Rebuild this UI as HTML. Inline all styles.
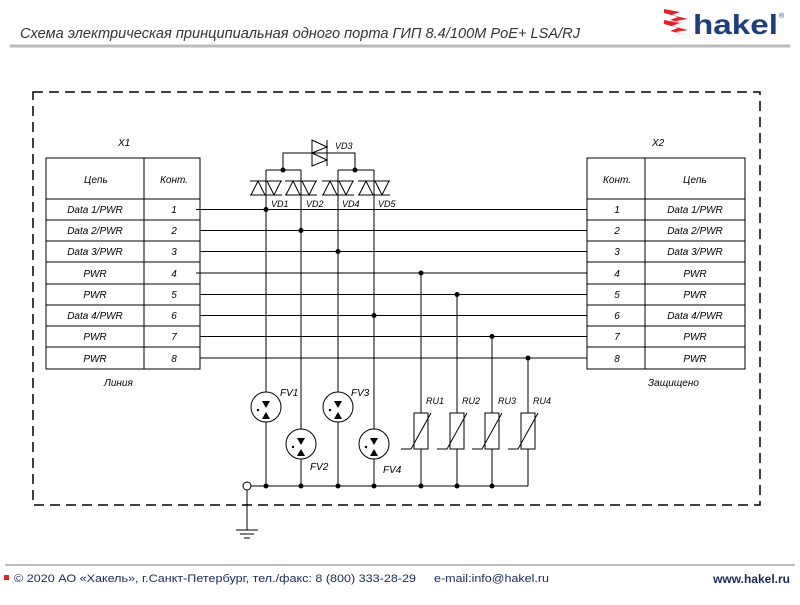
<!DOCTYPE html>
<html><head><meta charset="utf-8"><style>
body{margin:0;background:#fff;width:800px;height:600px;overflow:hidden}
svg text{font-family:"Liberation Sans","DejaVu Sans",sans-serif;font-style:italic}
svg text.n{font-style:normal}
</style></head><body>
<svg width="800" height="600" viewBox="0 0 800 600" xmlns="http://www.w3.org/2000/svg">
<text x="20" y="38" font-size="15" fill="#333" textLength="560" lengthAdjust="spacingAndGlyphs">Схема электрическая принципиальная одного порта ГИП 8.4/100М PoE+ LSA/RJ</text>
<line x1="10" y1="46" x2="790" y2="46" stroke="#bbb" stroke-width="3"/>
<g fill="#e0242b">
<polygon points="664,9 680,12 672,15 688,19 676,21 686,24 670,20 678,17 664,13"/>
<polygon points="664,20 680,23 672,26 688,30 676,32 686,35 670,31 678,28 664,24"/>
</g>
<text class="n" x="693" y="34" font-size="28" font-weight="bold" fill="#1d3f7a" textLength="85" lengthAdjust="spacingAndGlyphs">hakel</text>
<text class="n" x="779" y="18" font-size="7" fill="#1d3f7a">®</text>

<rect x="33" y="92" width="727" height="413" fill="none" stroke="#000" stroke-width="1.5" stroke-dasharray="10,6"/>

<g stroke="#000" stroke-width="1" fill="none">
<rect x="46" y="158" width="154" height="211"/>
<line x1="144" y1="158" x2="144" y2="369"/>
<line x1="46" y1="199" x2="200" y2="199"/>
<line x1="46" y1="220" x2="200" y2="220"/><line x1="46" y1="241" x2="200" y2="241"/>
<line x1="46" y1="262" x2="200" y2="262"/><line x1="46" y1="284" x2="200" y2="284"/>
<line x1="46" y1="305" x2="200" y2="305"/><line x1="46" y1="326" x2="200" y2="326"/>
<line x1="46" y1="347" x2="200" y2="347"/>
<rect x="587" y="158" width="158" height="211"/>
<line x1="645" y1="158" x2="645" y2="369"/>
<line x1="587" y1="199" x2="745" y2="199"/>
<line x1="587" y1="220" x2="745" y2="220"/><line x1="587" y1="241" x2="745" y2="241"/>
<line x1="587" y1="262" x2="745" y2="262"/><line x1="587" y1="284" x2="745" y2="284"/>
<line x1="587" y1="305" x2="745" y2="305"/><line x1="587" y1="326" x2="745" y2="326"/>
<line x1="587" y1="347" x2="745" y2="347"/>
<line x1="196" y1="209.5" x2="587" y2="209.5"/><line x1="200" y1="230.5" x2="587" y2="230.5"/>
<line x1="200" y1="251.5" x2="587" y2="251.5"/><line x1="196" y1="273" x2="587" y2="273"/>
<line x1="200" y1="294.5" x2="587" y2="294.5"/><line x1="200" y1="315.5" x2="587" y2="315.5"/>
<line x1="200" y1="336.5" x2="587" y2="336.5"/><line x1="200" y1="358" x2="587" y2="358"/>
<line x1="266" y1="170" x2="266" y2="392"/><line x1="266" y1="422" x2="266" y2="486"/>
<line x1="301" y1="170" x2="301" y2="429"/><line x1="301" y1="459" x2="301" y2="486"/>
<line x1="338" y1="170" x2="338" y2="392"/><line x1="338" y1="422" x2="338" y2="486"/>
<line x1="374" y1="170" x2="374" y2="429"/><line x1="374" y1="459" x2="374" y2="486"/>
<line x1="266" y1="170" x2="301" y2="170"/><line x1="338" y1="170" x2="374" y2="170"/>
<polyline points="283,170 283,153 355,153 355,170"/>
<line x1="421" y1="273" x2="421" y2="486"/><line x1="457" y1="294.5" x2="457" y2="486"/>
<line x1="492" y1="336.5" x2="492" y2="486"/><line x1="528" y1="358" x2="528" y2="486"/>
<line x1="251" y1="486" x2="528" y2="486"/>
<circle cx="247" cy="486" r="4" fill="#fff"/>
<line x1="247" y1="490" x2="247" y2="530"/>
<line x1="236" y1="530" x2="258" y2="530"/><line x1="240" y1="534" x2="254" y2="534"/><line x1="244" y1="538" x2="250" y2="538"/>
<circle cx="266" cy="407" r="15"/><circle cx="301" cy="444" r="15"/>
<circle cx="338" cy="407" r="15"/><circle cx="374" cy="444" r="15"/>
<rect x="414" y="413" width="14" height="36" fill="#fff"/><rect x="450" y="413" width="14" height="36" fill="#fff"/>
<rect x="485" y="413" width="14" height="36" fill="#fff"/><rect x="521" y="413" width="14" height="36" fill="#fff"/>
<polyline points="401,449 411,449 431,413"/><polyline points="437,449 447,449 467,413"/>
<polyline points="472,449 482,449 502,413"/><polyline points="508,449 518,449 538,413"/>
<g id="tvs">
<line x1="250" y1="181" x2="282" y2="181"/><line x1="250" y1="195" x2="282" y2="195"/>
<polygon points="251,195 258,181 265,195"/>
<polygon points="267,181 274,195 281,181"/>
</g>
<use href="#tvs" x="35"/><use href="#tvs" x="72"/><use href="#tvs" x="108"/>
<line x1="327" y1="140" x2="327" y2="166"/>
<polygon points="312,140 327,147 312,153"/><polygon points="312,153 327,160 312,166"/>
<line x1="312" y1="140" x2="312" y2="166"/>
</g>
<g fill="#000">
<circle cx="266" cy="209.5" r="2.5"/><circle cx="301" cy="230.5" r="2.5"/>
<circle cx="338" cy="251.5" r="2.5"/><circle cx="374" cy="315.5" r="2.5"/>
<circle cx="421" cy="273" r="2.5"/><circle cx="457" cy="294.5" r="2.5"/>
<circle cx="492" cy="336.5" r="2.5"/><circle cx="528" cy="358" r="2.5"/>
<circle cx="283" cy="170" r="2.5"/><circle cx="355" cy="170" r="2.5"/>
<circle cx="266" cy="486" r="2.5"/><circle cx="301" cy="486" r="2.5"/><circle cx="338" cy="486" r="2.5"/>
<circle cx="374" cy="486" r="2.5"/><circle cx="421" cy="486" r="2.5"/><circle cx="457" cy="486" r="2.5"/><circle cx="492" cy="486" r="2.5"/>
<g id="fv"><polygon points="262,401 270,401 266,408"/><polygon points="262,419 270,419 266,412"/><circle cx="258" cy="410" r="1.2"/></g>
<use href="#fv" x="35" y="37"/><use href="#fv" x="72"/><use href="#fv" x="108" y="37"/>
</g>
<g font-size="10" fill="#000">
<text x="118" y="146">X1</text><text x="652" y="146">X2</text>
<text x="84" y="183">Цепь</text><text x="160" y="183">Конт.</text>
<text x="603" y="183">Конт.</text><text x="683" y="183">Цепь</text>
<text x="104" y="386">Линия</text><text x="648" y="386">Защищено</text>
<text x="335" y="149" font-size="9">VD3</text>
<text x="271" y="207" font-size="9">VD1</text><text x="306" y="207" font-size="9">VD2</text>
<text x="342" y="207" font-size="9">VD4</text><text x="378" y="207" font-size="9">VD5</text>
<text x="280" y="396">FV1</text><text x="310" y="470">FV2</text>
<text x="351" y="396">FV3</text><text x="383" y="473">FV4</text>
<text x="426" y="404" font-size="9">RU1</text><text x="462" y="404" font-size="9">RU2</text>
<text x="498" y="404" font-size="9">RU3</text><text x="533" y="404" font-size="9">RU4</text>
</g>
<g font-size="10" fill="#000" text-anchor="middle">
<text x="95" y="213">Data 1/PWR</text><text x="95" y="234">Data 2/PWR</text><text x="95" y="255">Data 3/PWR</text>
<text x="95" y="277">PWR</text><text x="95" y="298">PWR</text><text x="95" y="319">Data 4/PWR</text>
<text x="95" y="340">PWR</text><text x="95" y="362">PWR</text>
<text x="174" y="213">1</text><text x="174" y="234">2</text><text x="174" y="255">3</text><text x="174" y="277">4</text>
<text x="174" y="298">5</text><text x="174" y="319">6</text><text x="174" y="340">7</text><text x="174" y="362">8</text>
<text x="617" y="213">1</text><text x="617" y="234">2</text><text x="617" y="255">3</text><text x="617" y="277">4</text>
<text x="617" y="298">5</text><text x="617" y="319">6</text><text x="617" y="340">7</text><text x="617" y="362">8</text>
<text x="695" y="213">Data 1/PWR</text><text x="695" y="234">Data 2/PWR</text><text x="695" y="255">Data 3/PWR</text>
<text x="695" y="277">PWR</text><text x="695" y="298">PWR</text><text x="695" y="319">Data 4/PWR</text>
<text x="695" y="340">PWR</text><text x="695" y="362">PWR</text>
</g>
<line x1="5" y1="565" x2="795" y2="565" stroke="#bbb" stroke-width="2"/>
<rect x="4" y="575" width="5" height="5" fill="#e0242b"/>
<text class="n" x="14" y="582" font-size="11" fill="#1a2a5a" textLength="402" lengthAdjust="spacingAndGlyphs">© 2020 АО «Хакель», г.Санкт-Петербург, тел./факс: 8 (800) 333-28-29</text>
<text class="n" x="434" y="582" font-size="11" fill="#1a2a5a" textLength="115" lengthAdjust="spacingAndGlyphs">e-mail:info@hakel.ru</text>
<text class="n" x="790" y="583" font-size="12" font-weight="bold" fill="#1a2a5a" text-anchor="end">www.hakel.ru</text>
</svg>
</body></html>
